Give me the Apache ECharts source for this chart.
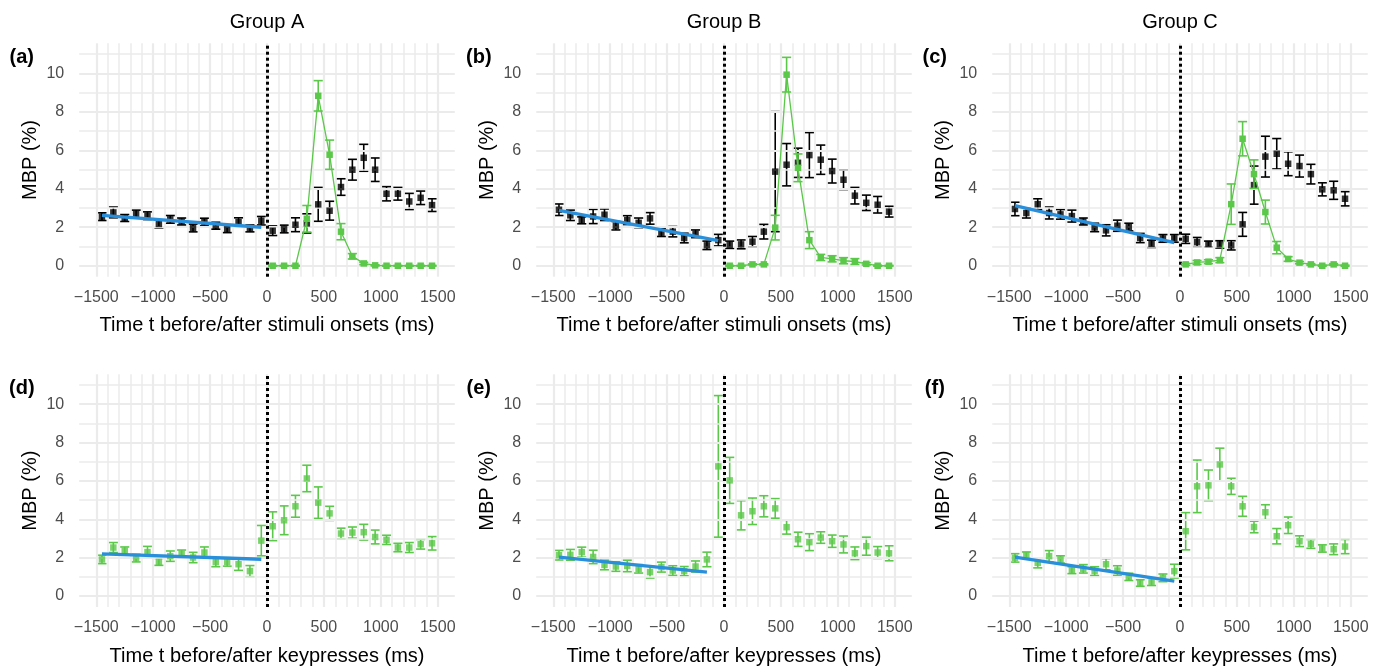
<!DOCTYPE html>
<html><head><meta charset="utf-8">
<script src="https://cdn.jsdelivr.net/npm/echarts@6/dist/echarts.min.js"></script>
<style>html,body{margin:0;padding:0;background:#fff}#c{width:1384px;height:667px}</style>
</head><body><div id="c"></div>
<script>
// ---------- data ----------
const timeAll = [-1450,-1350,-1250,-1150,-1050,-950,-850,-750,-650,-550,-450,-350,-250,-150,-50,
                 50,150,250,350,450,550,650,750,850,950,1050,1150,1250,1350,1450];
const timePost = [50,150,250,350,450,550,650,750,850,950,1050,1150,1250,1350,1450];
const xTickValues = [-1500,-1000,-500,0,500,1000,1500];
const yTickValues = [0,2,4,6,8,10];
const xMinorLines = [-1400,-1300,-1200,-1100,-900,-800,-700,-600,-400,-300,-200,-100,
                     100,200,300,400,600,700,800,900,1100,1200,1300,1400];
const yMinorLines = [1,3,5,7,9,11];
const groupTitles = ['Group A','Group B','Group C'];
const panelTags = ['(a)','(b)','(c)','(d)','(e)','(f)'];
const xTitleTop = 'Time t before/after stimuli onsets (ms)';
const xTitleBottom = 'Time t before/after keypresses (ms)';
const yTitle = 'MBP (%)';

// (a) Group A, stimuli
const aBlackMean = [2.55,2.77,2.48,2.69,2.60,2.17,2.41,2.30,1.96,2.27,2.08,1.92,2.27,1.94,2.34,
                    1.82,1.91,2.13,2.20,3.19,2.86,4.09,4.99,5.61,4.99,3.74,3.74,3.34,3.53,3.15];
const aBlackSe   = [0.20,0.28,0.18,0.20,0.20,0.20,0.20,0.18,0.20,0.20,0.18,0.20,0.22,0.18,0.22,
                    0.25,0.20,0.36,0.50,0.88,0.49,0.43,0.54,0.70,0.61,0.37,0.33,0.42,0.35,0.33];
const aGreenMean = [0,0,0,2.44,8.83,5.77,1.77,0.49,0.12,0.02,0,0,0,0,0];
const aGreenSe   = [0.02,0.02,0.02,0.69,0.79,0.76,0.42,0.14,0.06,0.03,0.02,0.02,0.02,0.02,0.02];
const aFitTime = [-1450,-50];
const aFitVal  = [2.62,2.00];

// (b) Group B, stimuli
const bBlackMean = [2.91,2.62,2.36,2.56,2.65,2.08,2.37,2.23,2.46,1.72,1.77,1.44,1.66,1.06,1.33,
                    1.09,1.11,1.25,1.77,4.89,5.25,5.35,5.75,5.51,4.92,4.47,3.64,3.27,3.17,2.81];
const bBlackSe   = [0.30,0.27,0.18,0.37,0.30,0.22,0.23,0.25,0.30,0.20,0.27,0.25,0.20,0.22,0.30,
                    0.19,0.23,0.27,0.38,3.12,1.10,0.76,1.17,0.76,0.62,0.51,0.43,0.40,0.43,0.28];
const bGreenMean = [0,0,0.07,0.07,1.98,9.93,5.09,1.33,0.43,0.36,0.26,0.22,0.10,0,0];
const bGreenSe   = [0.02,0.02,0.03,0.03,0.64,0.90,0.72,0.44,0.16,0.16,0.16,0.15,0.06,0.03,0.02];
const bFitTime = [-1450,-50];
const bFitVal  = [2.88,1.30];

// (c) Group C, stimuli
const cBlackMean = [2.95,2.74,3.20,2.74,2.67,2.58,2.30,1.99,1.84,2.08,2.01,1.44,1.14,1.42,1.42,
                    1.40,1.23,1.13,1.11,1.06,2.15,4.19,5.67,5.82,5.30,5.18,4.76,3.97,3.92,3.48];
const cBlackSe   = [0.35,0.26,0.28,0.31,0.25,0.31,0.18,0.22,0.29,0.29,0.20,0.24,0.19,0.20,0.20,
                    0.24,0.24,0.15,0.19,0.24,0.62,0.99,1.06,0.79,0.62,0.57,0.51,0.34,0.47,0.37];
const cGreenMean = [0.07,0.17,0.21,0.29,3.20,6.60,4.76,2.79,0.94,0.35,0.16,0.07,0,0.07,0];
const cGreenSe   = [0.05,0.10,0.10,0.13,1.05,0.89,0.74,0.62,0.32,0.12,0.06,0.04,0.03,0.04,0.03];
const cFitTime = [-1450,-50];
const cFitVal  = [3.12,1.20];

// (d) Group A, keypresses
const dMean = [1.91,2.53,2.36,1.98,2.29,1.78,2.08,2.20,2.01,2.27,1.77,1.78,1.66,1.30,2.89,
               3.64,3.95,4.68,6.13,4.87,4.31,3.26,3.31,3.33,3.08,2.93,2.53,2.53,2.70,2.75];
const dSe   = [0.22,0.26,0.20,0.20,0.30,0.18,0.27,0.20,0.27,0.29,0.24,0.22,0.32,0.29,0.79,
               0.75,0.75,0.57,0.69,0.82,0.37,0.28,0.29,0.41,0.36,0.24,0.22,0.26,0.25,0.35];
const dFitTime = [-1450,-50];
const dFitVal  = [2.20,1.92];

// (e) Group B, keypresses
const eMean = [2.13,2.15,2.29,2.04,1.62,1.54,1.57,1.42,1.25,1.51,1.33,1.30,1.54,1.91,6.76,
               6.03,4.21,4.42,4.68,4.57,3.59,2.96,2.81,3.05,2.86,2.69,2.23,2.60,2.27,2.23];
const eSe   = [0.25,0.28,0.26,0.35,0.25,0.25,0.30,0.22,0.31,0.26,0.25,0.24,0.29,0.38,3.69,
               1.20,0.76,0.69,0.55,0.51,0.36,0.37,0.44,0.30,0.32,0.44,0.33,0.47,0.31,0.39];
const eFitTime = [-1450,-150];
const eFitVal  = [2.03,1.25];

// (f) Group C, keypresses
const fMean = [1.99,2.13,1.73,2.08,1.91,1.35,1.42,1.30,1.66,1.33,1.00,0.68,0.75,0.95,1.30,
               3.38,5.72,5.77,6.86,5.72,4.68,3.60,4.37,3.12,3.69,2.86,2.72,2.48,2.44,2.58];
const fSe   = [0.22,0.17,0.26,0.29,0.19,0.18,0.22,0.23,0.29,0.25,0.19,0.17,0.20,0.20,0.36,
               0.97,1.37,0.80,0.85,0.42,0.52,0.30,0.39,0.40,0.43,0.28,0.23,0.19,0.28,0.37];
const fFitTime = [-1450,-50];
const fFitVal  = [2.03,0.78];

// ---------- layout / style ----------
const FONT = '"Liberation Sans", Arial, Helvetica, sans-serif';
const GREEN = '#5BC84A', BLUE = '#2A8FDB', BLACK = '#000000', GRID = '#EBEBEB';
const COL_LEFT = [79.2, 536.2, 992.2], COL_W = 375.6;
const ROW_TOP = [43.3, 374.3], ROW_H = 233.4;
const X_MIN = -1650, X_MAX = 1650, Y_MIN = -0.57, Y_MAX = 11.56;
const CAP = 40; // half cap width in ms

const panels = [
  {black:[aBlackMean,aBlackSe], line:[aGreenMean,aGreenSe], fit:[aFitTime,aFitVal]},
  {black:[bBlackMean,bBlackSe], line:[bGreenMean,bGreenSe], fit:[bFitTime,bFitVal]},
  {black:[cBlackMean,cBlackSe], line:[cGreenMean,cGreenSe], fit:[cFitTime,cFitVal]},
  {pts:[dMean,dSe], fit:[dFitTime,dFitVal]},
  {pts:[eMean,eSe], fit:[eFitTime,eFitVal]},
  {pts:[fMean,fSe], fit:[fFitTime,fFitVal]}
];

const fmt = v => v < 0 ? '\u2212' + (-v) : String(v);

function errRender(color) {
  return function (params, api) {
    const x = api.value(0), lo = api.value(1), hi = api.value(2);
    const pLo = api.coord([x, lo]), pHi = api.coord([x, hi]);
    const l = api.coord([x - CAP, lo])[0], r = api.coord([x + CAP, lo])[0];
    const st = {stroke: color, lineWidth: 1.6};
    return {type: 'group', children: [
      {type: 'line', shape: {x1: pLo[0], y1: pLo[1], x2: pHi[0], y2: pHi[1]}, style: st},
      {type: 'line', shape: {x1: l, y1: pLo[1], x2: r, y2: pLo[1]}, style: st},
      {type: 'line', shape: {x1: l, y1: pHi[1], x2: r, y2: pHi[1]}, style: st}
    ]};
  };
}
function errData(times, mean, se) {
  return times.map((t, i) => [t, mean[i] - se[i], mean[i] + se[i]]);
}
function ptData(times, mean) { return times.map((t, i) => [t, mean[i]]); }

const grid = [], xAxis = [], yAxis = [], series = [], graphic = [];

panels.forEach((p, i) => {
  const row = Math.floor(i / 3), col = i % 3;
  grid.push({left: COL_LEFT[col], top: ROW_TOP[row], width: COL_W, height: ROW_H, containLabel: false});
  xAxis.push({
    type: 'value', gridIndex: i, min: X_MIN, max: X_MAX,
    axisLine: {show: false}, axisTick: {show: false}, splitLine: {show: false},
    axisLabel: {customValues: xTickValues, formatter: fmt, color: '#4D4D4D', fontSize: 16, margin: 13, fontFamily: FONT},
    name: row === 0 ? xTitleTop : xTitleBottom, nameLocation: 'middle', nameGap: 39,
    nameTextStyle: {fontSize: 20, color: '#000', fontFamily: FONT}
  });
  yAxis.push({
    type: 'value', gridIndex: i, min: Y_MIN, max: Y_MAX,
    axisLine: {show: false}, axisTick: {show: false}, splitLine: {show: false},
    axisLabel: {customValues: yTickValues, color: '#4D4D4D', fontSize: 16, margin: 15, fontFamily: FONT},
    name: yTitle, nameLocation: 'middle', nameGap: 39,
    nameTextStyle: {fontSize: 20, color: '#000', fontFamily: FONT}
  });

  // grid lines
  const gl = [];
  xTickValues.forEach(v => gl.push({xAxis: v, lineStyle: {color: GRID, width: 2.2, type: 'solid'}}));
  xMinorLines.forEach(v => gl.push({xAxis: v, lineStyle: {color: GRID, width: 1.5, type: 'solid'}}));
  yTickValues.forEach(v => gl.push({yAxis: v, lineStyle: {color: GRID, width: 2.2, type: 'solid'}}));
  yMinorLines.forEach(v => gl.push({yAxis: v, lineStyle: {color: GRID, width: 1.5, type: 'solid'}}));
  series.push({
    type: 'line', xAxisIndex: i, yAxisIndex: i, data: [], z: 0, silent: true,
    markLine: {silent: true, symbol: ['none', 'none'], label: {show: false}, animation: false,
               emphasis: {disabled: true}, lineStyle: {type: 'solid'}, data: gl}
  });
  // dotted onset line
  series.push({
    type: 'line', xAxisIndex: i, yAxisIndex: i, data: [], z: 1, silent: true,
    markLine: {silent: true, symbol: ['none', 'none'], label: {show: false}, animation: false,
               emphasis: {disabled: true},
               data: [{xAxis: 0, lineStyle: {color: BLACK, width: 3, type: [3, 3]}}]}
  });

  if (p.black) {
    series.push({type: 'custom', xAxisIndex: i, yAxisIndex: i, z: 4, silent: true,
      renderItem: errRender(BLACK), encode: {x: 0, y: [1, 2]},
      data: errData(timeAll, p.black[0], p.black[1])});
    series.push({type: 'scatter', xAxisIndex: i, yAxisIndex: i, z: 5, silent: true,
      symbol: 'rect', symbolSize: 6.5, itemStyle: {color: BLACK},
      data: ptData(timeAll, p.black[0])});
    series.push({type: 'custom', xAxisIndex: i, yAxisIndex: i, z: 6, silent: true,
      renderItem: errRender(GREEN), encode: {x: 0, y: [1, 2]},
      data: errData(timePost, p.line[0], p.line[1])});
    series.push({type: 'line', xAxisIndex: i, yAxisIndex: i, z: 7, silent: true,
      symbol: 'rect', symbolSize: 6.5, showSymbol: true,
      itemStyle: {color: GREEN}, lineStyle: {color: GREEN, width: 1.3},
      data: ptData(timePost, p.line[0])});
  } else {
    series.push({type: 'custom', xAxisIndex: i, yAxisIndex: i, z: 4, silent: true,
      renderItem: errRender(GREEN), encode: {x: 0, y: [1, 2]},
      data: errData(timeAll, p.pts[0], p.pts[1])});
    series.push({type: 'scatter', xAxisIndex: i, yAxisIndex: i, z: 5, silent: true,
      symbol: 'rect', symbolSize: 6.5, itemStyle: {color: GREEN},
      data: ptData(timeAll, p.pts[0])});
  }
  // fit line on top
  series.push({
    type: 'line', xAxisIndex: i, yAxisIndex: i, z: 9, silent: true, symbol: 'none',
    data: ptData(p.fit[0], p.fit[1]), lineStyle: {color: BLUE, width: 3.3}
  });

  // panel tag
  graphic.push({type: 'text', x: COL_LEFT[col] - 57.4, y: ROW_TOP[row] + 14.5,
    style: {text: panelTags[i], fontSize: 20, fontWeight: 'bold', fill: '#000', fontFamily: FONT,
            align: 'center', verticalAlign: 'middle'}});
});

groupTitles.forEach((t, c) => {
  graphic.push({type: 'text', x: COL_LEFT[c] + COL_W / 2, y: 22,
    style: {text: t, fontSize: 20, fill: '#000', fontFamily: FONT, align: 'center', verticalAlign: 'middle'}});
});

const chart = echarts.init(document.getElementById('c'), null, {renderer: 'canvas'});
chart.setOption({animation: false, backgroundColor: '#fff', grid, xAxis, yAxis, series, graphic});
</script>
</body></html>
